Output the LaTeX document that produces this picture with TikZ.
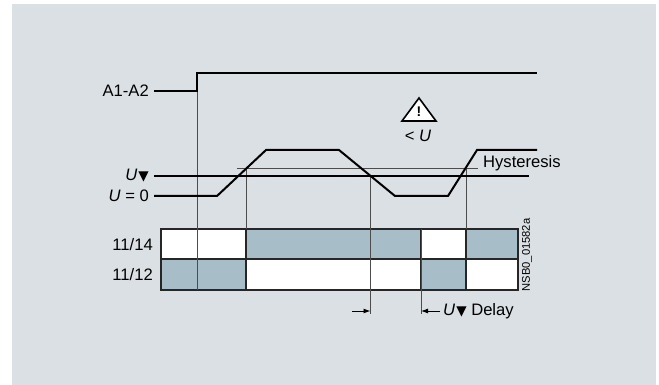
\documentclass[tikz,border=0pt]{standalone}
\usepackage{fontspec}
\setmainfont{Liberation Sans}
\newfontfamily\symfont{DejaVu Sans}
\usetikzlibrary{arrows.meta}
\definecolor{bggray}{RGB}{219,224,228}
\definecolor{relgray}{RGB}{167,189,199}
\newcommand{\tri}{{\kern1pt\fontsize{13.5}{16}\symfont ▼}}
\tikzset{
  lbl/.style={font=\fontsize{16.6}{19}\selectfont, inner sep=0pt},
  sig/.style={line width=2pt, line join=miter},
  guide/.style={line width=0.9pt, draw=black!70},
  cellbox/.style={draw=black!85, line width=2pt},
  delay/.style={line width=0.9pt, -{Latex[length=7pt,width=5pt]}},
}
\begin{document}
\begin{tikzpicture}[x=1pt,y=-1pt]
    % Fondo
    \fill[white] (0,0) rectangle (659,385);
    \fill[bggray] (12,4) rectangle (656,385);
    \useasboundingbox (0,0) rectangle (659,385);

    % Etiquetas
    \node[lbl, anchor=east] (a12) at (149,91) {A1-A2};
    \node[lbl, anchor=east] (uth) at (149,176) {\textit{U}\tri};
    \node[lbl, anchor=east] (uzero) at (149,196) {\textit{U} = 0};
    \node[lbl, anchor=east] (k14) at (153,245) {11/14};
    \node[lbl, anchor=east] (k12) at (153,275) {11/12};
    \node[lbl, anchor=west] (hyst) at (483,163) {Hysteresis};
    \node[lbl, anchor=west] (dly) at (443,311) {\textit{U}\tri\ Delay};
    \node[lbl, font=\fontsize{11.2}{13}\selectfont, rotate=90] (code) at (527,255) {NSB0\_01582a};

    % Aviso
    \draw[line width=1.6pt, line join=miter, fill=white] (419,98) -- (436,121) -- (402,121) -- cycle;
    \node[lbl, font=\bfseries\fontsize{14}{16}\selectfont] (excl) at (419,112) {!};
    \node[lbl] (lowu) at (418,136) {< \textit{U}};

    % Puntos de tiempo
    \coordinate (on) at (197,73);
    \coordinate (hup) at (246,168);
    \coordinate (fall) at (370.5,176);
    \coordinate (rst) at (421,229);
    \coordinate (hup2) at (466,168);
    \coordinate (larr) at (352,311);
    \coordinate (rarr) at (440,311);

    % Celdas de contactos
    \fill[white] (161,229) rectangle (246,259);
    \fill[relgray] (246,229) rectangle (421,259);
    \fill[white] (421,229) rectangle (466,259);
    \fill[relgray] (466,229) rectangle (518,259);
    \fill[relgray] (161,259) rectangle (246,290);
    \fill[white] (246,259) rectangle (421,290);
    \fill[relgray] (421,259) rectangle (466,290);
    \fill[white] (466,259) rectangle (518,290);
    \draw[cellbox] (161,229) rectangle (518,290);
    \draw[cellbox] (161,259) -- (518,259);
    \draw[cellbox] (246,229) -- (246,290);
    \draw[cellbox] (421,229) -- (421,290);
    \draw[cellbox] (466,229) -- (466,290);

    % Lineas de referencia
    \draw[guide] (on) -- (197,290);
    \draw[guide] (hup) -- (246,229);
    \draw[guide] (fall) -- (370.5,314);
    \draw[guide] (rst) -- (421,314);
    \draw[guide] (hup2) -- (466,229);
    \draw[guide] (237,168) -- (478,168);

    % Retardo
    \draw[delay] (larr) -- (370.5,311);
    \draw[delay] (rarr) -- (421,311);

    % Senales
    \draw[sig] ([xshift=5pt]a12.east) -- (197,91) -- (on) -- (537,73);
    \draw[sig] ([xshift=5pt]uth.east) -- (529,176);
    \draw[sig] ([xshift=5pt]uzero.east) -- (217,196) -- (266,150) -- (339,150)
        -- (395,196) -- (448,196) -- (477,150) -- (537,150);
\end{tikzpicture}
\end{document}
